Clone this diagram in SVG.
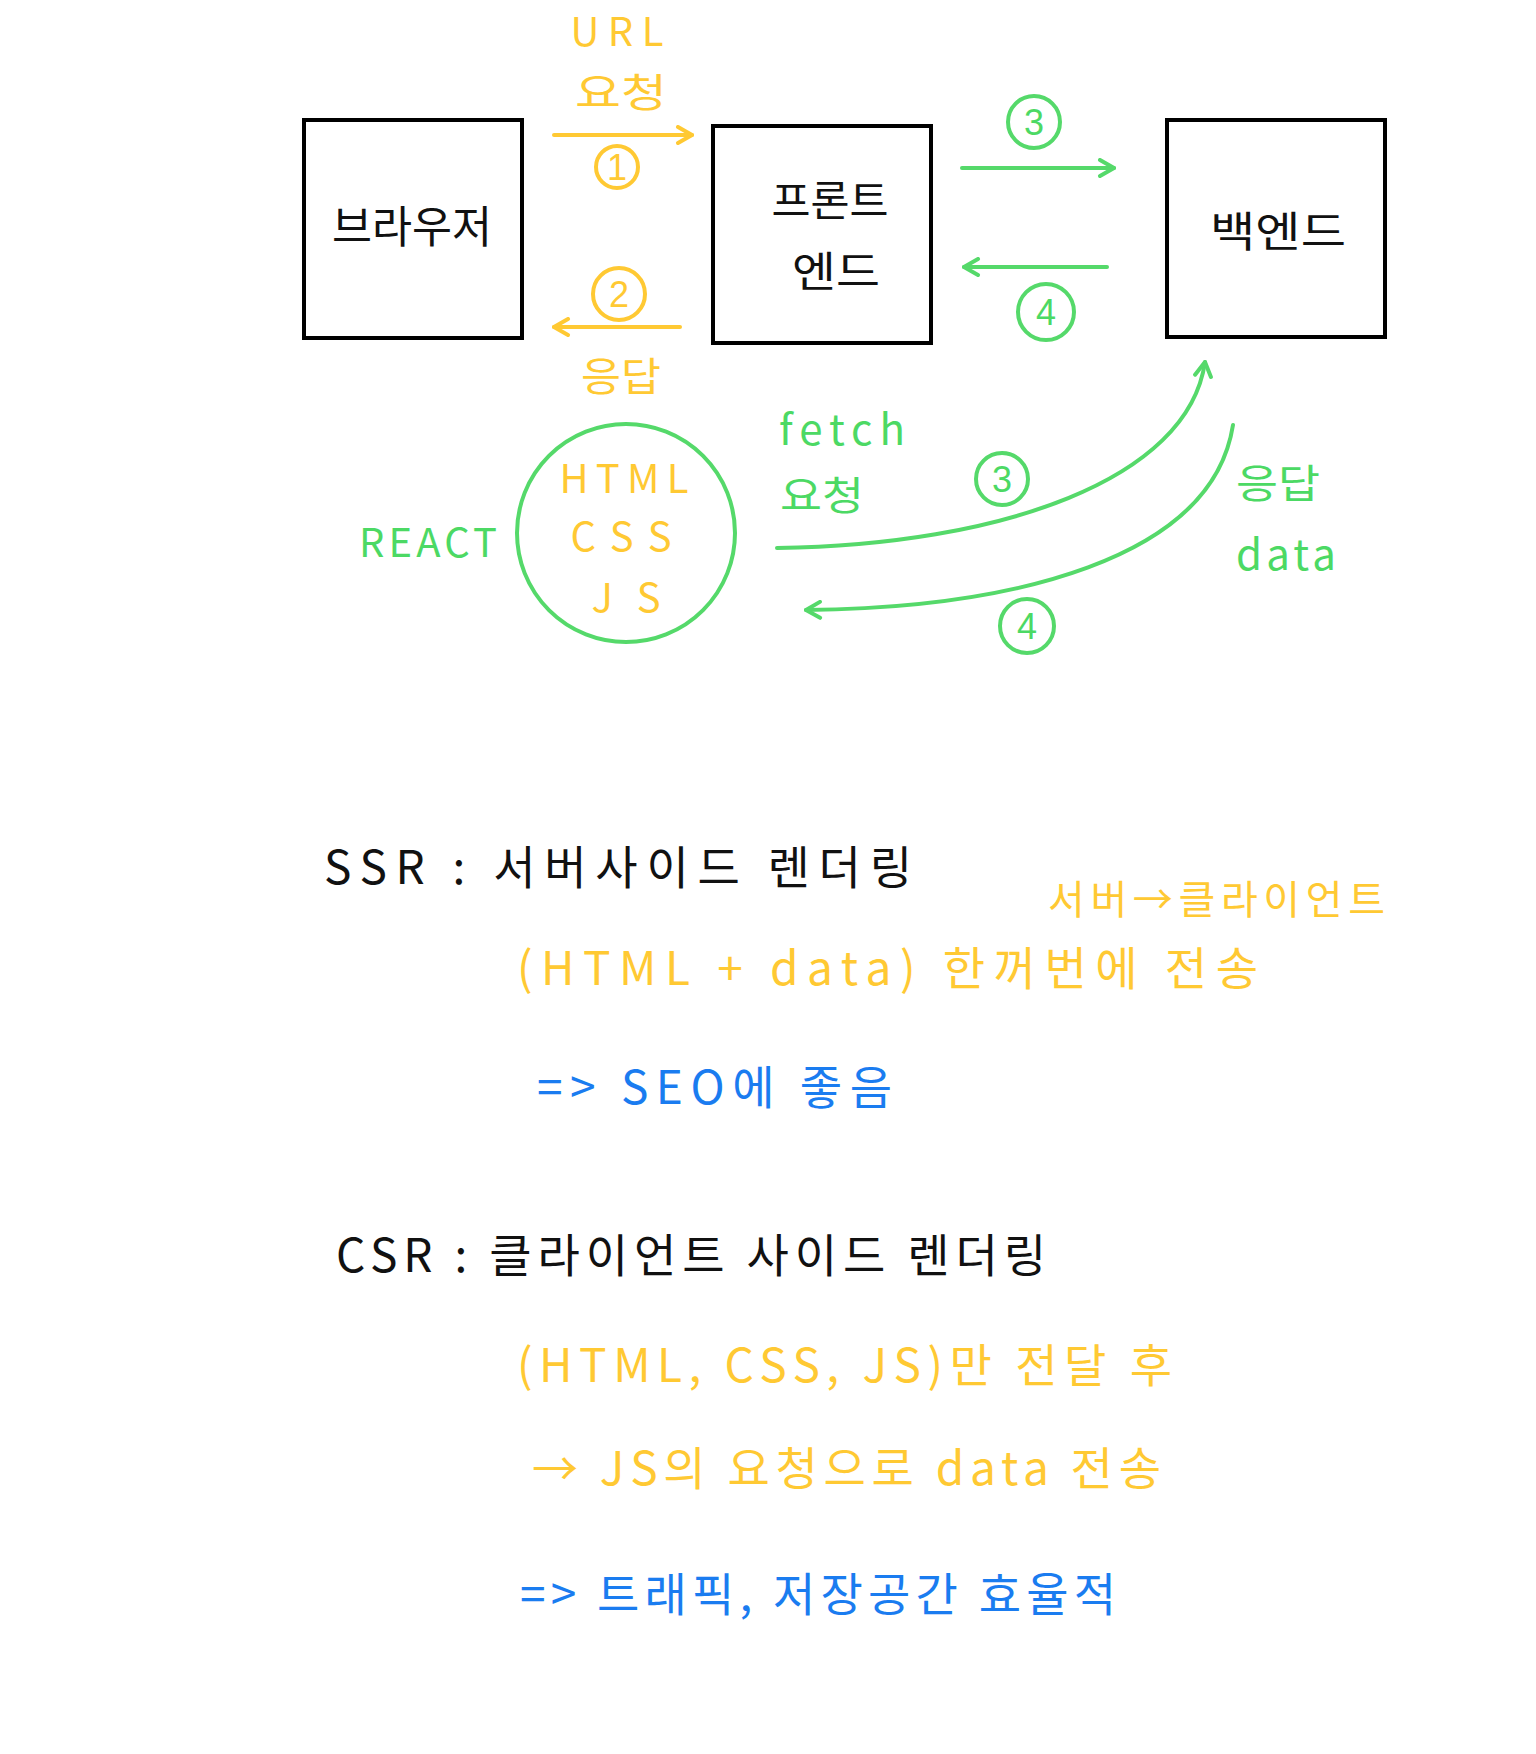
<svg xmlns="http://www.w3.org/2000/svg" width="1536" height="1754" viewBox="0 0 1536 1754">
<defs>
<style>
.box{fill:#fff;stroke:#000;stroke-width:4}
.t{font-family:"Noto Sans CJK KR","Liberation Sans",sans-serif;text-anchor:middle}
.tl{font-family:"Noto Sans CJK KR","Liberation Sans",sans-serif}
.n{font-family:"Liberation Sans",sans-serif;text-anchor:middle;font-size:36px}
.k{fill:#111}
.y{fill:#FFC933}
.g{fill:#4CD964}
.b{fill:#1A7CF0}
.cy{fill:none;stroke:#FFC933;stroke-width:4}
.cg{fill:none;stroke:#55D96A;stroke-width:4}
.ly{fill:none;stroke:#FFC933;stroke-width:4;stroke-linecap:round}
.lg{fill:none;stroke:#55D96A;stroke-width:4;stroke-linecap:round}
</style>
<marker id="ay" viewBox="0 0 20 20" refX="18" refY="10" markerWidth="20" markerHeight="20" markerUnits="userSpaceOnUse" orient="auto">
<path d="M4,2 L18,10 L4,18" fill="none" stroke="#FFC933" stroke-width="4" stroke-linecap="round" stroke-linejoin="round"/>
</marker>
<marker id="ag" viewBox="0 0 20 20" refX="18" refY="10" markerWidth="20" markerHeight="20" markerUnits="userSpaceOnUse" orient="auto">
<path d="M4,2 L18,10 L4,18" fill="none" stroke="#55D96A" stroke-width="4" stroke-linecap="round" stroke-linejoin="round"/>
</marker>
</defs>
<rect width="1536" height="1754" fill="#fff"/>

<g id="browser">
<rect class="box" x="304" y="120" width="218" height="218"/>
<text class="t k" x="412" y="243" font-size="44" textLength="160" lengthAdjust="spacingAndGlyphs">브라우저</text>
</g>
<g id="frontend">
<rect class="box" x="713" y="126" width="218" height="217"/>
<text class="t k" x="830" y="216" font-size="42" textLength="117" lengthAdjust="spacingAndGlyphs">프론트</text>
<text class="t k" x="836" y="287" font-size="42" textLength="88" lengthAdjust="spacingAndGlyphs">엔드</text>
</g>
<g id="backend">
<rect class="box" x="1167" y="120" width="218" height="217"/>
<text class="t k" x="1278" y="247" font-size="42" textLength="136" lengthAdjust="spacingAndGlyphs">백엔드</text>
</g>
<g id="react">
<ellipse cx="626" cy="533" rx="109" ry="109" fill="none" stroke="#55D96A" stroke-width="4"/>
<text class="t y" x="624" y="493" font-size="40" textLength="129" lengthAdjust="spacing">HTML</text>
<text class="t y" x="621" y="551" font-size="40" textLength="101" lengthAdjust="spacing">CSS</text>
<text class="t y" x="626" y="612" font-size="40" textLength="69" lengthAdjust="spacing">JS</text>
<text class="t g" x="428" y="557" font-size="40" textLength="138" lengthAdjust="spacing">REACT</text>
</g>

<g id="connectors">
<line class="ly" x1="554" y1="135" x2="692" y2="135" marker-end="url(#ay)"/>
<line class="ly" x1="680" y1="327" x2="554" y2="327" marker-end="url(#ay)"/>
<line class="lg" x1="962" y1="168" x2="1114" y2="168" marker-end="url(#ag)"/>
<line class="lg" x1="1107" y1="267" x2="964" y2="267" marker-end="url(#ag)"/>
<path class="lg" d="M777,548 C1000,545 1188,480 1205,362" marker-end="url(#ag)"/>
<path class="lg" d="M1233,425 C1212,560 1010,608 806,610" marker-end="url(#ag)"/>
</g>

<g id="labels">
<text class="t y" x="617" y="46" font-size="40" textLength="93" lengthAdjust="spacing">URL</text>
<text class="t y" x="621" y="107" font-size="40" textLength="92" lengthAdjust="spacingAndGlyphs">요청</text>
<circle class="cy" cx="617" cy="167" r="21"/>
<text class="n y" x="617" y="180">1</text>
<circle class="cy" cx="619" cy="294" r="26"/>
<text class="n y" x="619" y="307">2</text>
<text class="t y" x="621" y="391" font-size="40" textLength="80" lengthAdjust="spacingAndGlyphs">응답</text>

<circle class="cg" cx="1034" cy="122" r="26"/>
<text class="n g" x="1034" y="135">3</text>
<circle class="cg" cx="1046" cy="312" r="28"/>
<text class="n g" x="1046" y="325">4</text>

<text class="t g" x="842" y="445" font-size="42" textLength="126" lengthAdjust="spacing">fetch</text>
<text class="t g" x="822" y="510" font-size="40" textLength="84" lengthAdjust="spacingAndGlyphs">요청</text>
<circle class="cg" cx="1002" cy="479" r="26"/>
<text class="n g" x="1002" y="492">3</text>
<circle class="cg" cx="1027" cy="626" r="27"/>
<text class="n g" x="1027" y="639">4</text>
<text class="t g" x="1278" y="498" font-size="40" textLength="84" lengthAdjust="spacingAndGlyphs">응답</text>
<text class="t g" x="1286" y="570" font-size="42" textLength="100" lengthAdjust="spacing">data</text>
</g>

<g id="notes">
<text class="tl k" x="324" y="884" font-size="46" textLength="588" lengthAdjust="spacing">SSR : 서버사이드 렌더링</text>
<text class="tl y" x="1048" y="914" font-size="40" textLength="337" lengthAdjust="spacing">서버→클라이언트</text>
<text class="tl y" x="517" y="985" font-size="46" textLength="741" lengthAdjust="spacing">(HTML + data) 한꺼번에 전송</text>
<text class="tl b" x="537" y="1104" font-size="46" textLength="355" lengthAdjust="spacing">=&gt; SEO에 좋음</text>
<text class="tl k" x="336" y="1272" font-size="46" textLength="710" lengthAdjust="spacing">CSR : 클라이언트 사이드 렌더링</text>
<text class="tl y" x="517" y="1382" font-size="46" textLength="655" lengthAdjust="spacing">(HTML, CSS, JS)만 전달 후</text>
<text class="tl y" x="532" y="1485" font-size="46" textLength="629" lengthAdjust="spacing">→ JS의 요청으로 data 전송</text>
<text class="tl b" x="520" y="1611" font-size="46" textLength="596" lengthAdjust="spacing">=&gt; 트래픽, 저장공간 효율적</text>
</g>
</svg>
